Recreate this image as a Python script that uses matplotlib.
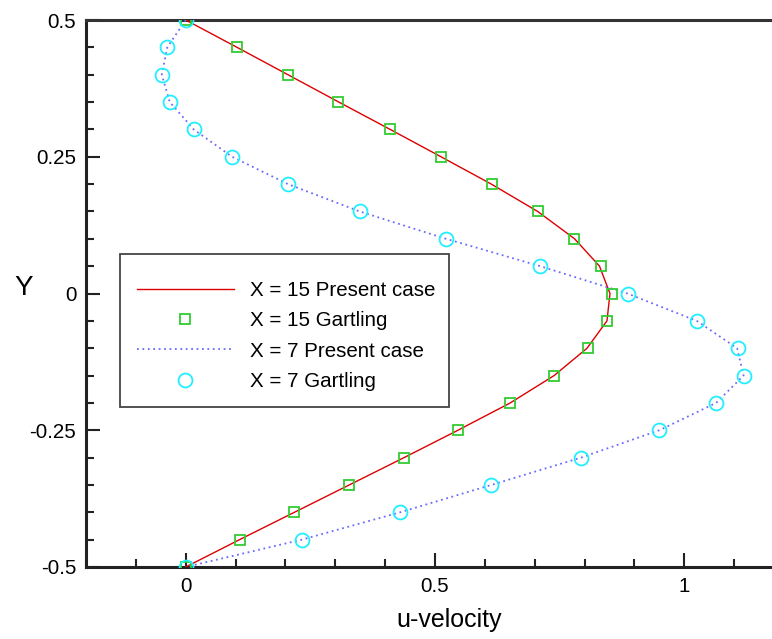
import matplotlib
matplotlib.use("Agg")
import matplotlib.pyplot as plt
from matplotlib.patches import Rectangle
from matplotlib.ticker import MultipleLocator, FixedLocator

plt.rcParams['font.family'] = ['Liberation Sans', 'DejaVu Sans']

# Vertical stations across the channel
y_pts = [0.5, 0.45, 0.4, 0.35, 0.3, 0.25, 0.2, 0.15, 0.1, 0.05, 0.0,
         -0.05, -0.1, -0.15, -0.2, -0.25, -0.3, -0.35, -0.4, -0.45, -0.5]

# X = 15 : present computation and Gartling benchmark
u15_present = [0.0, 0.103, 0.205, 0.307, 0.410, 0.512, 0.613, 0.706, 0.780,
               0.830, 0.851, 0.845, 0.805, 0.739, 0.651, 0.546, 0.438,
               0.328, 0.218, 0.108, 0.0]
u15_gartling = [0.0, 0.102, 0.205, 0.305, 0.410, 0.512, 0.614, 0.707, 0.779,
                0.832, 0.856, 0.846, 0.806, 0.739, 0.651, 0.546, 0.438,
                0.327, 0.217, 0.108, 0.0]

# X = 7 : present computation and Gartling benchmark
u7_present = [0.0, -0.037, -0.048, -0.032, 0.016, 0.093, 0.205, 0.349, 0.522,
              0.711, 0.886, 1.025, 1.106, 1.119, 1.064, 0.950, 0.793, 0.613,
              0.430, 0.233, 0.0]
u7_gartling = [0.0, -0.038, -0.048, -0.032, 0.016, 0.093, 0.205, 0.349, 0.522,
               0.711, 0.887, 1.025, 1.107, 1.120, 1.064, 0.950, 0.793, 0.613,
               0.430, 0.233, 0.0]

W, H = 772, 639
fig = plt.figure(figsize=(W / 100, H / 100), dpi=100)
ax_l, ax_b, ax_w, ax_h = 86, 567, 686, 547   # axes box in pixels (left, bottom-y, width, height)
ax = fig.add_axes([ax_l / W, 1 - ax_b / H, ax_w / W, ax_h / H])


def to_axes(px, py):
    return (px - ax_l) / ax_w, (ax_b - py) / ax_h


ax.plot(u15_present, y_pts, color='#dd0000', lw=1.0, ls='-',
        label='X = 15 Present case', zorder=3)
ax.plot(u15_gartling, y_pts, ls='none', marker='s', ms=7.8, mfc='none',
        mec='#33cc33', mew=1.3, label='X = 15 Gartling', zorder=4)
ax.plot(u7_present, y_pts, color='#6a6aff', lw=1.3, ls=(0, (1, 2)),
        label='X = 7 Present case', zorder=3)
ax.plot(u7_gartling, y_pts, ls='none', marker='o', ms=10, mfc='none',
        mec='#22eeff', mew=1.3, label='X = 7 Gartling', zorder=4)

ax.set_xlim(-0.2, 1.176)
ax.set_ylim(-0.5, 0.5)

ax.xaxis.set_major_locator(FixedLocator([0, 0.5, 1]))
ax.xaxis.set_minor_locator(MultipleLocator(0.1))
ax.yaxis.set_major_locator(FixedLocator([-0.5, -0.25, 0, 0.25, 0.5]))
ax.yaxis.set_minor_locator(MultipleLocator(0.05))
ax.set_xticklabels(['0', '0.5', '1'])
ax.set_yticklabels(['-0.5', '-0.25', '0', '0.25', '0.5'])

ax.tick_params(which='both', direction='in', top=False, right=False,
               width=1.5, color='#222222')
ax.tick_params(which='major', length=10, labelsize=14.8, pad=7)
ax.tick_params(which='minor', length=6)

for side in ('left', 'bottom', 'top'):
    ax.spines[side].set_linewidth(2.2)
    ax.spines[side].set_color('#222222')
ax.spines['top'].set_color('#333333')
ax.spines['right'].set_visible(False)

ax.set_xlabel('u-velocity', fontsize=18)
ax.xaxis.set_label_coords(0.529, -0.075)
ax.set_ylabel('Y', fontsize=20, rotation=0, va='center', ha='center')
ax.yaxis.set_label_coords(-0.0904, 0.51)

# Legend box with a plain rectangular frame
x0, y0 = to_axes(120, 407)
x1, y1 = to_axes(449, 254)
ax.add_patch(Rectangle((x0, y0), x1 - x0, y1 - y0, transform=ax.transAxes,
                       facecolor='white', edgecolor='#444444', lw=1.3,
                       zorder=5))
lx, ly = to_axes(137, 281)
leg = ax.legend(loc='upper left', bbox_to_anchor=(lx, ly),
                fontsize=14.8, frameon=False,
                handlelength=4.7, handletextpad=0.8, borderpad=0,
                labelspacing=0.55, borderaxespad=0)
leg.set_zorder(6)

fig.savefig('out.png', dpi=100)
